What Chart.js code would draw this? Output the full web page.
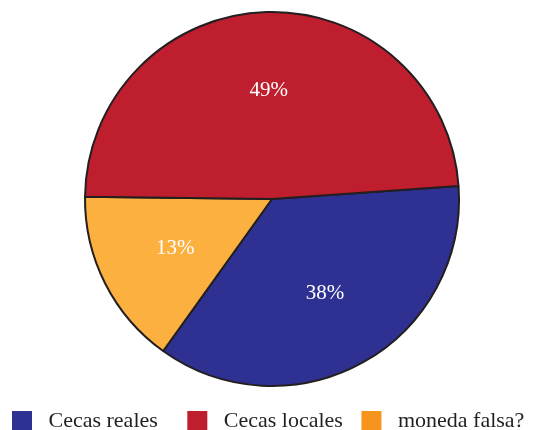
<!DOCTYPE html>
<html>
<head>
<meta charset="utf-8">
<script src="https://cdn.jsdelivr.net/npm/chart.js@4.4.1/dist/chart.umd.min.js"></script>
<style>
html,body{margin:0;padding:0;background:#fff;}
#wrap{width:534px;height:430px;position:relative;}
</style>
</head>
<body>
<div id="wrap"><canvas id="c" width="534" height="430"></canvas></div>
<script>
// Data (slice order clockwise from the right)
const categories = ['Cecas reales', 'moneda falsa?', 'Cecas locales'];
const values = [36.0, 15.3, 48.7];
const percentLabels = ['38%', '13%', '49%'];
const sliceColors = ['#2e3192', '#fbb040', '#be1e2d'];
const legendColors = ['#2e3192', '#f7941d', '#be1e2d'];
const legendOrder = [0, 2, 1];
const legendSuffix = ['     ', '', '   '];

const pctPlugin = {
  id: 'pct',
  afterDatasetsDraw(chart) {
    const ctx = chart.ctx;
    const meta = chart.getDatasetMeta(0);
    ctx.save();
    ctx.fillStyle = '#ffffff';
    ctx.font = '21px "Liberation Serif"';
    ctx.textAlign = 'center';
    ctx.textBaseline = 'middle';
    meta.data.forEach((arc, i) => {
      const p = arc.getProps(['x', 'y', 'startAngle', 'endAngle', 'outerRadius'], true);
      const mid = (p.startAngle + p.endAngle) / 2;
      const r = p.outerRadius * 0.58;
      ctx.fillText(percentLabels[i], p.x + Math.cos(mid) * r, p.y + Math.sin(mid) * r);
    });
    ctx.restore();
  }
};

new Chart(document.getElementById('c'), {
  type: 'pie',
  data: {
    labels: categories,
    datasets: [{
      data: values,
      backgroundColor: sliceColors,
      borderColor: '#231f20',
      borderWidth: 2
    }]
  },
  options: {
    responsive: false,
    animation: false,
    rotation: 86,
    layout: { padding: { top: 11, bottom: -12, left: 10, right: 0 } },
    plugins: {
      tooltip: { enabled: false },
      legend: {
        position: 'bottom',
        align: 'start',
        title: { display: true, text: '', font: { size: 21, lineHeight: 1 }, padding: 0 },
        labels: {
          font: { family: '"Liberation Serif"', size: 22 },
          color: '#231f20',
          boxWidth: 20,
          boxHeight: 20,
          padding: 2,
          sort: (a, b) => legendOrder.indexOf(a.index) - legendOrder.indexOf(b.index),
          generateLabels(chart) {
            return categories.map((c, i) => ({
              text: ' ' + c + legendSuffix[i],
              fillStyle: legendColors[i],
              strokeStyle: legendColors[i],
              lineWidth: 0,
              hidden: false,
              index: i,
              fontColor: '#231f20'
            }));
          }
        }
      }
    }
  },
  plugins: [pctPlugin]
});
</script>
</body>
</html>
